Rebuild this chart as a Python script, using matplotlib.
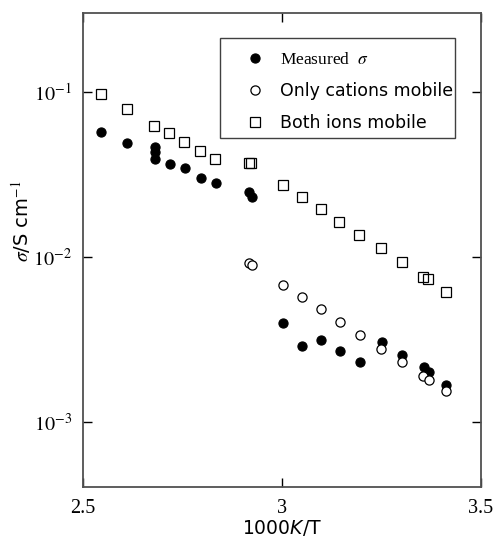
import matplotlib
matplotlib.use("Agg")
import matplotlib.pyplot as plt
from matplotlib.patches import Rectangle
from matplotlib.ticker import FixedLocator, NullLocator

plt.rcParams['mathtext.fontset'] = 'stix'

# 1000/T values and conductivities (S/cm)
x_meas = [2.544, 2.610, 2.681, 2.681, 2.681, 2.719, 2.756, 2.796, 2.834, 2.916, 2.924,
          3.002, 3.050, 3.098, 3.146, 3.196, 3.250, 3.302, 3.357, 3.369, 3.412]
y_meas = [0.0568, 0.0491, 0.0465, 0.0434, 0.0390, 0.0365, 0.0347, 0.0302, 0.0279, 0.0246, 0.0230,
          0.00400, 0.00289, 0.00313, 0.00269, 0.00231, 0.00306, 0.00256, 0.00215, 0.00201, 0.00169]

x_cat = [2.917, 2.924, 3.003, 3.050, 3.098, 3.146, 3.196, 3.248, 3.302, 3.355, 3.369, 3.412]
y_cat = [0.00924, 0.00895, 0.00674, 0.00570, 0.00485, 0.00406, 0.00337, 0.00279, 0.00231,
         0.00191, 0.00180, 0.00154]

x_both = [2.544, 2.610, 2.679, 2.717, 2.755, 2.794, 2.832, 2.916, 2.921, 3.002, 3.049, 3.097,
          3.144, 3.194, 3.248, 3.301, 3.355, 3.368, 3.412]
y_both = [0.0968, 0.0782, 0.0620, 0.0560, 0.0498, 0.0440, 0.0390, 0.0372, 0.0369, 0.0271,
          0.0231, 0.0194, 0.01628, 0.01364, 0.01129, 0.00933, 0.00757, 0.00733, 0.00614]

labels = [r'Measured  $\sigma$', 'Only cations mobile', 'Both ions mobile']

fig = plt.figure(figsize=(4.98, 5.51), dpi=100)
ax = fig.add_axes([83/498, 1 - 487/551, 398/498, 474/551])

ms = 6.6
ax.plot(x_meas, y_meas, 'o', ms=ms, mfc='black', mec='black', mew=0.8, label=labels[0])
ax.plot(x_cat, y_cat, 'o', ms=ms, mfc='white', mec='black', mew=0.9, label=labels[1])
ax.plot(x_both, y_both, 's', ms=6.9, mfc='none', mec='black', mew=0.9, label=labels[2])

ax.set_yscale('log')
ax.set_xlim(2.5, 3.5)
ax.set_ylim(4.06e-4, 0.299)

ax.xaxis.set_major_locator(FixedLocator([2.5, 3.0, 3.5]))
ax.set_xticklabels(['2.5', '3', '3.5'], family='Liberation Serif', fontsize=14.5)
ax.yaxis.set_major_locator(FixedLocator([1e-3, 1e-2, 1e-1]))
ax.yaxis.set_minor_locator(NullLocator())
ax.set_yticklabels([r'$10^{-3}$', r'$10^{-2}$', r'$10^{-1}$'], fontsize=14.5)
ax.tick_params(which='major', direction='in', length=6.5, width=1.0, color='black',
               top=True, right=True, pad=8)
ax.tick_params(axis='x', pad=8.4)

for s in ax.spines.values():
    s.set_color('#505050')
    s.set_linewidth(1.3)

ax.set_xlabel(r'1000$\mathit{K}$/T', fontsize=13.5, family='DejaVu Sans',
              math_fontfamily='dejavusans', labelpad=0.5)
ax.set_ylabel(r'$\sigma$/S cm$^{-1}$', fontsize=14, family='DejaVu Sans')
ax.yaxis.set_label_coords(-0.125, 0.56)

# legend entries without frame, box drawn separately
leg = ax.legend(loc='upper left', bbox_to_anchor=(0.4103, 0.917), fontsize=12.5,
                frameon=False, borderpad=0, labelspacing=0.8, handletextpad=0.94,
                handlelength=1.0, borderaxespad=0)
leg.get_texts()[0].set_family('Liberation Serif')
ax.add_patch(Rectangle((0.3442, 0.7363), 0.5905, 0.211, transform=ax.transAxes,
                       fill=False, ec='#404040', lw=1.0, zorder=5))

fig.savefig('out.png', dpi=100)
